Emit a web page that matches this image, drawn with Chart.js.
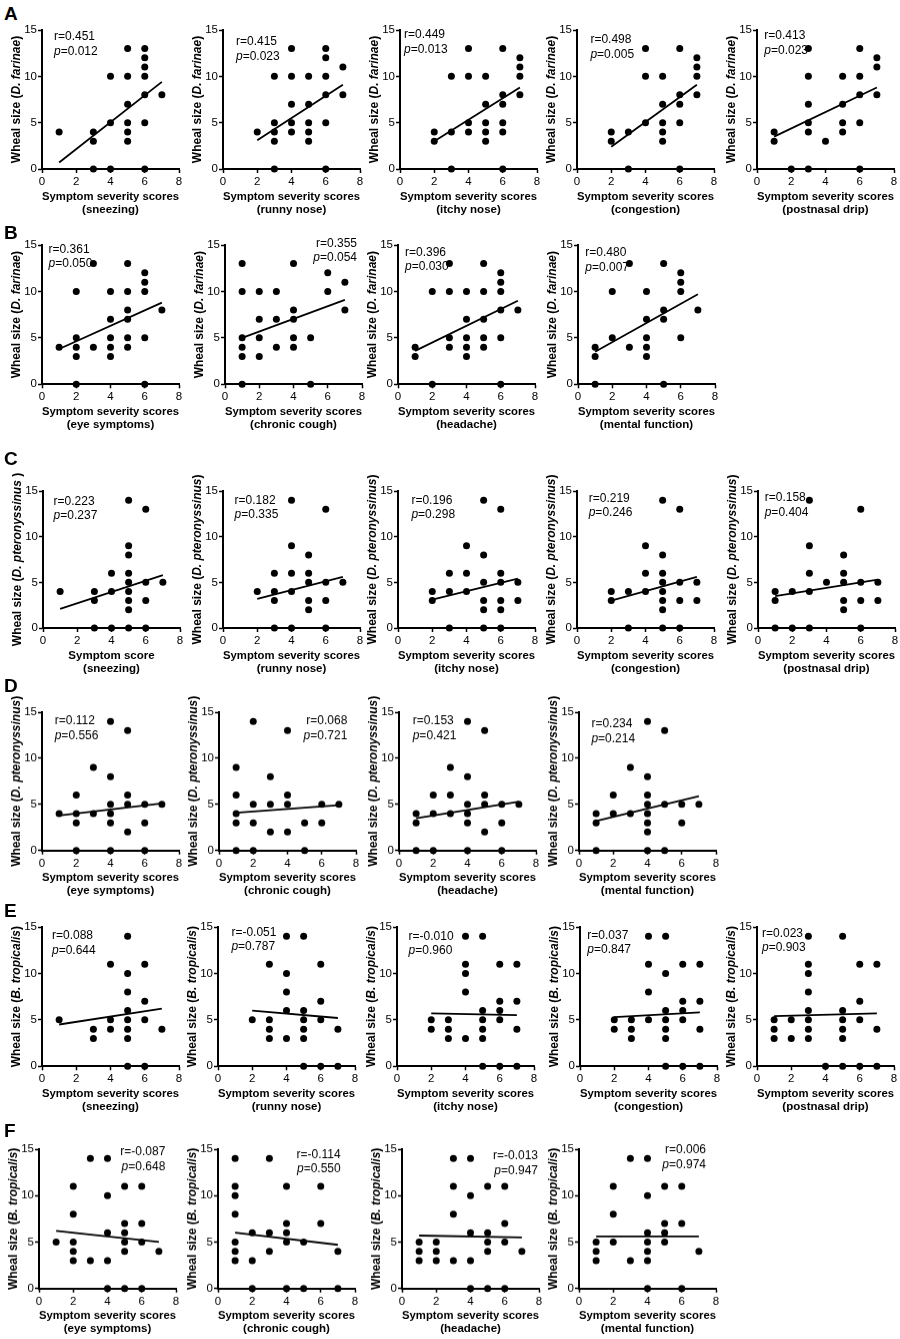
<!DOCTYPE html>
<html>
<head>
<meta charset="utf-8">
<script src="https://cdn.jsdelivr.net/npm/chart.js@4.4.0/dist/chart.umd.min.js"></script>
<style>
  body { margin: 0; background: #fff; width: 900px; height: 1339px; position: relative; overflow: hidden; }
  .panel { position: absolute; }
  .letter { position: absolute; left: 4px; font: bold 19px "Liberation Sans", Arial, sans-serif; line-height: 1; color: #000; }
</style>
</head>
<body>
<script>
// symptom names (x-axis subtitles)
const nasalSymptoms = ['sneezing', 'runny nose', 'itchy nose', 'congestion', 'postnasal drip'];
const otherSymptoms = ['eye symptoms', 'chronic cough', 'headache', 'mental function'];
const xTicks = [0, 2, 4, 6, 8];
const yTicks = [0, 5, 10, 15];

// A: D. farinae vs nasal symptoms
const rowA_points = [
  [[1,4],[3,4],[3,3],[3,0],[4,10],[4,5],[4,0],[5,13],[5,10],[5,7],[5,5],[5,4],[5,3],[6,13],[6,12],[6,11],[6,10],[6,8],[6,5],[6,0],[7,8]],
  [[2,4],[3,10],[3,5],[3,4],[3,3],[3,0],[4,13],[4,10],[4,7],[4,5],[4,4],[5,10],[5,7],[5,5],[5,4],[5,3],[6,13],[6,12],[6,10],[6,8],[6,5],[6,0],[7,11],[7,8]],
  [[2,4],[2,3],[3,10],[3,4],[3,0],[4,13],[4,10],[4,5],[4,4],[5,10],[5,7],[5,5],[5,4],[5,3],[6,13],[6,8],[6,7],[6,5],[6,4],[6,0],[7,12],[7,11],[7,10],[7,8]],
  [[2,4],[2,3],[3,4],[3,0],[4,13],[4,10],[4,5],[5,10],[5,7],[5,5],[5,4],[5,3],[6,13],[6,8],[6,7],[6,5],[6,0],[7,12],[7,11],[7,10],[7,8]],
  [[1,4],[1,3],[2,0],[3,13],[3,10],[3,7],[3,5],[3,4],[3,0],[4,3],[5,10],[5,7],[5,5],[5,4],[6,13],[6,10],[6,8],[6,5],[6,0],[7,12],[7,11],[7,8]]
];
const rowA_fit = [[1,0.7,7,9.4],[2,3.1,7,9.1],[2,3.0,7,8.8],[2,2.4,7,9.1],[1,3.5,7,8.8]];
const rowA_r = ['0.451', '0.415', '0.449', '0.498', '0.413'];
const rowA_p = ['0.012', '0.023', '0.013', '0.005', '0.023'];

// B: D. farinae vs other symptoms
const rowB_points = [
  [[1,4],[2,10],[2,5],[2,4],[2,3],[2,0],[3,13],[3,4],[4,10],[4,7],[4,5],[4,4],[4,3],[5,13],[5,10],[5,8],[5,7],[5,5],[5,4],[6,12],[6,11],[6,10],[6,5],[6,0],[7,8]],
  [[1,13],[1,10],[1,5],[1,4],[1,3],[1,0],[2,10],[2,7],[2,5],[2,3],[3,10],[3,7],[3,4],[4,13],[4,8],[4,7],[4,5],[4,4],[5,5],[5,0],[6,12],[6,10],[7,11],[7,8]],
  [[1,4],[1,3],[2,10],[2,0],[3,13],[3,10],[3,5],[3,4],[4,10],[4,7],[4,5],[4,4],[4,3],[5,13],[5,10],[5,7],[5,5],[5,4],[6,12],[6,11],[6,10],[6,8],[6,5],[6,0],[7,8]],
  [[1,4],[1,3],[1,0],[2,10],[2,5],[3,13],[3,4],[4,10],[4,7],[4,5],[4,4],[4,3],[5,13],[5,8],[5,7],[5,0],[6,12],[6,11],[6,10],[6,5],[7,8]]
];
const rowB_fit = [[1,3.8,7,8.8],[1,5.0,7,9.1],[1,3.6,7,9.0],[1,3.5,7,9.7]];
const rowB_r = ['0.361', '0.355', '0.396', '0.480'];
const rowB_p = ['0.050', '0.054', '0.030', '0.007'];

// C: D. pteronyssinus vs nasal symptoms
const rowC_points = [
  [[1,4],[3,4],[3,3],[3,0],[4,6],[4,4],[4,0],[5,14],[5,9],[5,8],[5,6],[5,5],[5,4],[5,3],[5,2],[5,0],[6,13],[6,5],[6,3],[6,0],[7,5]],
  [[2,4],[3,6],[3,4],[3,3],[3,0],[4,14],[4,9],[4,6],[4,4],[4,0],[5,8],[5,6],[5,5],[5,3],[5,2],[6,13],[6,5],[6,3],[6,0],[7,5]],
  [[2,4],[2,3],[3,6],[3,4],[3,0],[4,9],[4,6],[4,4],[5,14],[5,8],[5,5],[5,3],[5,2],[5,0],[6,13],[6,6],[6,5],[6,3],[6,2],[6,0],[7,5],[7,3]],
  [[2,4],[2,3],[3,4],[3,0],[4,9],[4,6],[4,4],[5,14],[5,8],[5,6],[5,5],[5,4],[5,3],[5,2],[5,0],[6,13],[6,5],[6,3],[6,0],[7,5],[7,3]],
  [[1,4],[1,3],[1,0],[2,4],[2,0],[3,14],[3,9],[3,6],[3,4],[3,0],[4,5],[5,8],[5,6],[5,5],[5,3],[5,2],[6,13],[6,5],[6,3],[6,0],[7,5],[7,3]]
];
const rowC_fit = [[1,2.1,7,5.8],[2,3.2,7,5.6],[2,3.1,7,5.4],[2,3.0,7,5.6],[1,3.5,7,5.3]];
const rowC_r = ['0.223', '0.182', '0.196', '0.219', '0.158'];
const rowC_p = ['0.237', '0.335', '0.298', '0.246', '0.404'];

// D: D. pteronyssinus vs other symptoms
const rowD_points = [
  [[1,4],[2,6],[2,4],[2,3],[2,0],[3,9],[3,4],[4,14],[4,8],[4,5],[4,4],[4,3],[4,0],[5,13],[5,6],[5,5],[5,2],[6,5],[6,3],[6,0],[7,5]],
  [[1,9],[1,6],[1,4],[1,3],[1,0],[2,14],[2,5],[2,3],[2,0],[3,8],[3,5],[3,2],[4,13],[4,6],[4,5],[4,2],[5,3],[5,0],[6,5],[6,3],[7,5]],
  [[1,4],[1,3],[1,0],[2,6],[2,4],[2,0],[3,9],[3,6],[3,4],[4,14],[4,8],[4,5],[4,4],[4,3],[4,0],[5,13],[5,6],[5,5],[5,2],[6,5],[6,3],[6,0],[7,5]],
  [[1,4],[1,3],[1,0],[2,6],[2,4],[3,9],[3,4],[4,14],[4,8],[4,6],[4,5],[4,4],[4,3],[4,2],[4,0],[5,13],[5,5],[5,0],[6,5],[6,3],[7,5]]
];
const rowD_fit = [[1,3.8,7,5.1],[1,4.1,7,4.9],[1,3.5,7,5.3],[1,3.2,7,5.9]];
const rowD_r = ['0.112', '0.068', '0.153', '0.234'];
const rowD_p = ['0.556', '0.721', '0.421', '0.214'];

// E: B. tropicalis vs nasal symptoms
const rowE_points = [
  [[1,5],[3,4],[3,3],[4,11],[4,5],[4,4],[5,14],[5,10],[5,8],[5,6],[5,5],[5,4],[5,3],[5,0],[6,11],[6,7],[6,5],[6,0],[7,4]],
  [[2,5],[3,11],[3,5],[3,4],[3,3],[4,14],[4,10],[4,8],[4,6],[4,3],[5,14],[5,6],[5,5],[5,4],[5,3],[5,0],[6,11],[6,7],[6,5],[6,0],[7,4],[7,0]],
  [[2,5],[2,4],[3,5],[3,4],[3,3],[4,14],[4,11],[4,10],[4,8],[4,3],[5,14],[5,6],[5,5],[5,4],[5,3],[5,0],[6,11],[6,7],[6,6],[6,5],[6,0],[7,11],[7,7],[7,4],[7,0]],
  [[2,5],[2,4],[3,5],[3,4],[3,3],[4,14],[4,11],[4,8],[4,5],[5,14],[5,10],[5,6],[5,5],[5,4],[5,3],[5,0],[6,11],[6,7],[6,6],[6,5],[6,0],[7,11],[7,7],[7,4],[7,0]],
  [[1,5],[1,4],[1,3],[2,5],[2,3],[3,14],[3,11],[3,10],[3,8],[3,6],[3,5],[3,4],[3,3],[4,0],[5,14],[5,6],[5,5],[5,4],[5,3],[5,0],[6,11],[6,7],[6,5],[6,0],[7,11],[7,4],[7,0]]
];
const rowE_fit = [[1,4.5,7,6.2],[2,6.0,7,5.2],[2,5.7,7,5.5],[2,5.3,7,5.8],[1,5.4,7,5.7]];
const rowE_r = ['0.088', '-0.051', '-0.010', '0.037', '0.023'];
const rowE_p = ['0.644', '0.787', '0.960', '0.847', '0.903'];

// F: B. tropicalis vs other symptoms
const rowF_points = [
  [[1,5],[2,11],[2,8],[2,5],[2,4],[2,3],[3,14],[3,3],[4,14],[4,10],[4,6],[4,3],[4,0],[5,11],[5,7],[5,6],[5,5],[5,4],[5,0],[6,11],[6,7],[6,5],[6,0],[7,4]],
  [[1,14],[1,11],[1,10],[1,8],[1,5],[1,4],[1,3],[2,6],[2,3],[2,0],[3,14],[3,6],[3,4],[4,11],[4,7],[4,6],[4,5],[4,0],[5,5],[5,0],[6,11],[6,7],[7,4],[7,0]],
  [[1,5],[1,4],[1,3],[2,5],[2,4],[2,3],[3,14],[3,11],[3,8],[3,3],[4,14],[4,10],[4,6],[4,3],[4,0],[5,11],[5,6],[5,5],[5,4],[5,0],[6,11],[6,7],[6,5],[6,0],[7,4]],
  [[1,5],[1,4],[1,3],[2,11],[2,8],[2,5],[3,14],[3,3],[4,14],[4,10],[4,6],[4,5],[4,4],[4,3],[4,0],[5,11],[5,7],[5,6],[5,5],[6,11],[6,7],[6,0],[7,4]]
];
const rowF_fit = [[1,6.2,7,5.0],[1,6.0,7,4.7],[1,5.7,7,5.5],[1,5.6,7,5.6]];
const rowF_r = ['-0.087', '-0.114', '-0.013', '0.006'];
const rowF_p = ['0.648', '0.550', '0.947', '0.974'];

// ---- layout (pixels on the page) ----
const FONT = '"Liberation Sans", Arial, Helvetica, sans-serif';
const PLOT_W = 137;
const YW = 44, PAD_R = 10, PAD_T = 26, XH = 54;
const rowTop    = [30, 245, 490.7, 712.3, 926.7, 1149];
const rowBottom = [169, 384.3, 627.7, 850, 1066, 1287.7];
const rowX0 = [
  [41.7, 222.7, 400, 577.3, 756.7],
  [41.7, 225, 398, 577.7],
  [42.7, 222.7, 398.3, 577.3, 758.3],
  [42.3, 219, 399, 579.3],
  [41.7, 218.3, 396.7, 580, 756.7],
  [39, 218.3, 401.7, 579.3]
];
const letterY = [13, 231.7, 458, 685, 910, 1130];
// r/p label anchor: side, horizontal offset, vertical offset of first line (px)
const statPos = [
  [['l',12,7],['l',13,11.7],['l',4,5],['l',13.4,10],['l',7.3,6]],
  [['l',6.6,4.3],['r',5,-1.7],['l',7,7.3],['l',7.3,7.7]],
  [['l',10.6,10.3],['l',11.6,9.3],['l',13.4,9.3],['l',11.7,7.6],['l',6.7,7]],
  [['l',12.7,8.7],['r',8.7,8.7],['l',13.7,8.7],['l',12.4,12]],
  [['l',10,9],['l',13.4,5.6],['l',11.6,9.3],['l',7.3,8.3],['l',5,6.6]],
  [['r',10.7,2.7],['r',14.3,5.3],['r',1,6.7],['r',10,1]]
];

const rows = [
  { letter: 'A', pts: rowA_points, fit: rowA_fit, r: rowA_r, p: rowA_p, sym: nasalSymptoms, allergen: 'D. farinae' },
  { letter: 'B', pts: rowB_points, fit: rowB_fit, r: rowB_r, p: rowB_p, sym: otherSymptoms, allergen: 'D. farinae' },
  { letter: 'C', pts: rowC_points, fit: rowC_fit, r: rowC_r, p: rowC_p, sym: nasalSymptoms, allergen: 'D. pteronyssinus' },
  { letter: 'D', pts: rowD_points, fit: rowD_fit, r: rowD_r, p: rowD_p, sym: otherSymptoms, allergen: 'D. pteronyssinus' },
  { letter: 'E', pts: rowE_points, fit: rowE_fit, r: rowE_r, p: rowE_p, sym: nasalSymptoms, allergen: 'B. tropicalis' },
  { letter: 'F', pts: rowF_points, fit: rowF_fit, r: rowF_r, p: rowF_p, sym: otherSymptoms, allergen: 'B. tropicalis' }
];

// draws mixed-style text: y axis title and r / p values
const panelText = {
  id: 'panelText',
  afterDraw(chart, args, o) {
    const ctx = chart.ctx, ca = chart.chartArea;
    ctx.save();
    ctx.fillStyle = '#000';
    ctx.textBaseline = 'middle';
    // y title, rotated
    ctx.translate(ca.left - 25, (ca.top + ca.bottom) / 2);
    ctx.rotate(-Math.PI / 2);
    let total = 0;
    o.yTitle.forEach(s => { ctx.font = s[1] + ' 12px ' + FONT; total += ctx.measureText(s[0]).width; });
    let x = -total / 2;
    ctx.textAlign = 'left';
    o.yTitle.forEach(s => { ctx.font = s[1] + ' 12px ' + FONT; ctx.fillText(s[0], x, 0); x += ctx.measureText(s[0]).width; });
    ctx.restore();

    // r and p
    ctx.save();
    ctx.fillStyle = '#000';
    ctx.textBaseline = 'middle';
    const [side, dx, dy] = o.pos;
    const y1 = ca.top + dy, y2 = y1 + 14.5;
    const rTxt = 'r=' + o.r, pTxt = '=' + o.p;
    ctx.font = '12px ' + FONT;
    const rW = ctx.measureText(rTxt).width, pRest = ctx.measureText(pTxt).width;
    ctx.font = 'italic 12px ' + FONT;
    const pW = ctx.measureText('p').width;
    let xl1, xl2;
    if (side === 'l') { xl1 = ca.left + dx; xl2 = xl1; }
    else { xl1 = ca.right - dx - rW; xl2 = ca.right - dx - pW - pRest; }
    ctx.textAlign = 'left';
    ctx.font = '12px ' + FONT;
    ctx.fillText(rTxt, xl1, y1);
    ctx.font = 'italic 12px ' + FONT;
    ctx.fillText('p', xl2, y2);
    ctx.font = '12px ' + FONT;
    ctx.fillText(pTxt, xl2 + pW, y2);
    ctx.restore();
  }
};

function makePanel(ri, pi) {
  const row = rows[ri];
  const x0 = rowX0[ri][pi];
  const top = rowTop[ri], bottom = rowBottom[ri];
  const plotH = bottom - top;

  const box = document.createElement('div');
  box.className = 'panel';
  box.style.left = (x0 - YW) + 'px';
  box.style.top = (top - PAD_T) + 'px';
  box.style.width = (YW + PLOT_W + PAD_R) + 'px';
  box.style.height = (PAD_T + plotH + XH) + 'px';
  const cv = document.createElement('canvas');
  box.appendChild(cv);
  document.body.appendChild(box);

  const f = row.fit[pi];
  const first = (ri === 2 && pi === 0) ? 'Symptom score' : 'Symptom severity scores';
  const closing = (ri === 2 && pi === 0) ? ' )' : ')';

  new Chart(cv, {
    type: 'scatter',
    data: {
      datasets: [
        {
          data: row.pts[pi].map(d => ({ x: d[0], y: d[1] })),
          backgroundColor: '#000', borderWidth: 0, pointRadius: 3.5, clip: false
        },
        {
          data: [{ x: f[0], y: f[1] }, { x: f[2], y: f[3] }],
          showLine: true, borderColor: '#000', borderWidth: 1.8, pointRadius: 0, clip: false
        }
      ]
    },
    options: {
      responsive: true,
      maintainAspectRatio: false,
      animation: false,
      events: [],
      layout: { padding: { top: PAD_T, right: PAD_R, left: 0, bottom: 0 } },
      plugins: {
        legend: { display: false },
        tooltip: { enabled: false },
        panelText: {
          yTitle: [['Wheal size (', 'bold'], [row.allergen, 'italic bold'], [closing, 'bold']],
          r: row.r[pi], p: row.p[pi], pos: statPos[ri][pi]
        }
      },
      scales: {
        x: {
          type: 'linear', min: 0, max: 8,
          afterBuildTicks: s => { s.ticks = xTicks.map(v => ({ value: v })); },
          afterFit: s => { s.height = XH; },
          grid: { drawOnChartArea: false, drawTicks: true, tickLength: 4, tickWidth: 1.5, tickColor: '#000' },
          border: { display: true, color: '#000', width: 2 },
          ticks: { color: '#000', padding: 2, font: { family: FONT, size: 11.5 }, maxRotation: 0 },
          title: {
            display: true, text: [first, '(' + row.sym[pi] + ')'], color: '#000',
            font: { family: FONT, size: 11.5, weight: 'bold', lineHeight: 1.13 },
            padding: { top: 0, bottom: 7 }
          }
        },
        y: {
          type: 'linear', min: 0, max: 15,
          afterBuildTicks: s => { s.ticks = yTicks.map(v => ({ value: v })); },
          afterFit: s => { s.width = YW; },
          grid: { drawOnChartArea: false, drawTicks: true, tickLength: 4, tickWidth: 1.5, tickColor: '#000' },
          border: { display: true, color: '#000', width: 2 },
          ticks: { color: '#000', padding: 1, font: { family: FONT, size: 11.5 } }
        }
      }
    },
    plugins: [panelText]
  });
}

rows.forEach((row, ri) => {
  const lt = document.createElement('div');
  lt.className = 'letter';
  lt.textContent = row.letter;
  lt.style.top = (letterY[ri] - 9) + 'px';
  document.body.appendChild(lt);
  row.pts.forEach((_, pi) => makePanel(ri, pi));
});
</script>
</body>
</html>
